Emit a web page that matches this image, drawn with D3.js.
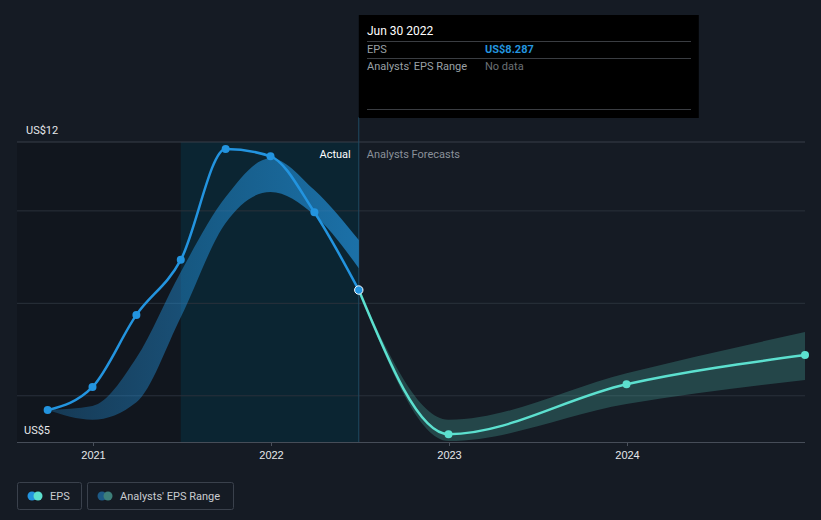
<!DOCTYPE html>
<html><head><meta charset="utf-8">
<script src="https://cdn.jsdelivr.net/npm/d3@7"></script>
<style>
html,body{margin:0;padding:0;background:#151b24;}
svg{display:block;font-family:Roboto,"Open Sans",sans-serif;}
</style></head>
<body><svg id="c" width="821" height="520"></svg>
<script>
// ---- data ----
const epsDates = ["2020-09-30","2020-12-31","2021-03-31","2021-06-30","2021-09-30","2021-12-31","2022-03-31","2022-06-30"];
const epsValues = [5.69, 6.19, 7.75, 8.94, 11.34, 11.18, 9.97, 8.287];
const pastRangeHigh = [5.69, 5.78, 6.82, 8.68, 10.30, 11.14, 10.45, 9.37];
const pastRangeLow  = [5.69, 5.48, 5.86, 7.70, 9.74, 10.41, 9.91, 8.76];
const fcDates = ["2022-06-30","2022-12-31","2023-12-31","2024-12-31"];
const fcValues = [8.287, 5.17, 6.25, 6.88];
const fcHigh = [8.287, 5.48, 6.49, 7.38];
const fcLow  = [8.287, 5.02, 5.82, 6.34];
const yearTicks = ["2021-01-01","2022-01-01","2023-01-01","2024-01-01"];
const yearLabels = ["2021","2022","2023","2024"];
const gridValues = [6, 8, 10];
const yMin = 5, yMax = 11.49;
const yLabels = ["US$12","US$5"];

const parse = d3.timeParse("%Y-%m-%d");
const svg = d3.select("#c");
const x = d3.scaleTime().domain([parse("2021-01-01"), parse("2024-01-01")]).range([93, 627]);
const y = d3.scaleLinear().domain([yMin, yMax]).range([442, 142]);
const left = 17, right = 805;
const xToday = x(parse("2022-06-30"));
const xHL = x(parse("2021-06-30"));

const defs = svg.append("defs");
const grad = defs.append("linearGradient").attr("id", "pastGrad").attr("gradientUnits", "userSpaceOnUse")
  .attr("x1", x(parse(epsDates[0]))).attr("x2", xToday).attr("y1", 0).attr("y2", 0);
grad.append("stop").attr("offset", 0).attr("stop-color", "#2394df").attr("stop-opacity", 0.28);
grad.append("stop").attr("offset", 1).attr("stop-color", "#2394df").attr("stop-opacity", 0.68);

// regions
svg.append("rect").attr("x", left).attr("y", y(yMax)).attr("width", xHL-left).attr("height", y(yMin)-y(yMax)).attr("fill", "#11161e");
svg.append("rect").attr("x", xHL).attr("y", y(yMax)).attr("width", xToday-xHL).attr("height", y(yMin)-y(yMax)).attr("fill", "#0b2532");

// grid
svg.selectAll(".g").data(gridValues).enter().append("line")
  .attr("x1", left).attr("x2", right).attr("y1", d=>y(d)).attr("y2", d=>y(d))
  .attr("stroke", "#2a313b").attr("stroke-width", 1);
svg.append("line").attr("x1", left).attr("x2", right).attr("y1", y(yMax)).attr("y2", y(yMax)).attr("stroke", "#383f49");

// axis
const xAxis = d3.axisBottom(x).tickValues(yearTicks.map(parse)).tickFormat((d,i)=>yearLabels[i]).tickSize(4).tickPadding(5);
const ax = svg.append("g").attr("transform", `translate(0,${y(yMin)})`).call(xAxis);
ax.select(".domain").remove();
ax.selectAll(".tick line").attr("stroke", "#4a515c");
ax.selectAll(".tick text").attr("fill", "#e6e8eb").attr("font-size", 11);
svg.append("line").attr("x1", left).attr("x2", right).attr("y1", y(yMin)+0.5).attr("y2", y(yMin)+0.5).attr("stroke", "#464d58");

// y labels
svg.append("text").attr("x", 26).attr("y", y(yMax)-8).attr("fill", "#e6e8eb").attr("font-size", 11).text(yLabels[0]);
svg.append("text").attr("x", 24).attr("y", y(yMin)-8).attr("fill", "#e6e8eb").attr("font-size", 11).text(yLabels[1]);

// today line
svg.append("line").attr("x1", xToday).attr("x2", xToday).attr("y1", 117).attr("y2", y(yMin)).attr("stroke", "#1f4a63").attr("stroke-width", 1);

// past band
const pastBand = epsDates.map((d,i)=>({d:parse(d), h:pastRangeHigh[i], l:pastRangeLow[i]}));
const area = d3.area().curve(d3.curveMonotoneX).x(d=>x(d.d)).y0(d=>y(d.l)).y1(d=>y(d.h));
svg.append("path").datum(pastBand).attr("d", area).attr("fill", "url(#pastGrad)");

// forecast band
const fcBand = fcDates.map((d,i)=>({d:parse(d), h:fcHigh[i], l:fcLow[i]}));
svg.append("path").datum(fcBand).attr("d", area).attr("fill", "#5ce0cf").attr("opacity", 0.22);

// labels
svg.append("text").attr("x", xToday-8).attr("y", 158).attr("text-anchor", "end").attr("fill", "#ffffff").attr("font-size", 11).text("Actual");
svg.append("text").attr("x", xToday+8).attr("y", 158).attr("fill", "#8a9099").attr("font-size", 11).text("Analysts Forecasts");

// lines
const line = d3.line().curve(d3.curveMonotoneX).x(d=>x(d.d)).y(d=>y(d.v));
const fcPts = fcDates.map((d,i)=>({d:parse(d), v:fcValues[i]}));
svg.append("path").datum(fcPts).attr("d", line).attr("fill", "none").attr("stroke", "#5ce0cf").attr("stroke-width", 2.5);
const epsPts = epsDates.map((d,i)=>({d:parse(d), v:epsValues[i]}));
svg.append("path").datum(epsPts).attr("d", line).attr("fill", "none").attr("stroke", "#2394df").attr("stroke-width", 2.5);

svg.selectAll(".fp").data(fcPts.slice(1)).enter().append("circle")
  .attr("cx", d=>x(d.d)).attr("cy", d=>y(d.v)).attr("r", 4).attr("fill", "#5ce0cf");
svg.selectAll(".ep").data(epsPts.slice(0, -1)).enter().append("circle")
  .attr("cx", d=>x(d.d)).attr("cy", d=>y(d.v)).attr("r", 4).attr("fill", "#2394df");
const last = epsPts[epsPts.length-1];
svg.append("circle").attr("cx", x(last.d)).attr("cy", y(last.v)).attr("r", 4.2).attr("fill", "#2394df").attr("stroke", "#ffffff").attr("stroke-width", 1);

// tooltip
const tt = svg.append("g");
tt.append("rect").attr("x", xToday).attr("y", 15).attr("width", 340).attr("height", 103).attr("fill", "#000000");
tt.append("text").attr("x", 367).attr("y", 35).attr("fill", "#ffffff").attr("font-size", 12).text("Jun 30 2022");
[41, 58, 109].forEach(yy=>tt.append("line").attr("x1", 367).attr("x2", 691).attr("y1", yy+0.5).attr("y2", yy+0.5).attr("stroke", "#3a3d42"));
tt.append("text").attr("x", 367).attr("y", 53).attr("fill", "#9aa0a6").attr("font-size", 11).text("EPS");
tt.append("text").attr("x", 485).attr("y", 53).attr("fill", "#2394df").attr("font-size", 11).attr("font-weight", "bold").text("US$" + epsValues[epsValues.length-1].toFixed(3));
tt.append("text").attr("x", 367).attr("y", 70).attr("fill", "#9aa0a6").attr("font-size", 11).text("Analysts' EPS Range");
tt.append("text").attr("x", 485).attr("y", 70).attr("fill", "#6b7075").attr("font-size", 11).text("No data");

// legend
const lg = svg.append("g");
lg.append("rect").attr("x", 17.5).attr("y", 482.5).attr("width", 64).attr("height", 27).attr("rx", 2).attr("fill", "none").attr("stroke", "#3a414c");
lg.append("circle").attr("cx", 32).attr("cy", 496).attr("r", 4.5).attr("fill", "#2394df");
lg.append("circle").attr("cx", 38).attr("cy", 496).attr("r", 4.5).attr("fill", "#5ce0cf");
lg.append("text").attr("x", 50).attr("y", 500).attr("fill", "#c9ccd0").attr("font-size", 11).text("EPS");
lg.append("rect").attr("x", 87.5).attr("y", 482.5).attr("width", 146).attr("height", 27).attr("rx", 2).attr("fill", "none").attr("stroke", "#3a414c");
lg.append("circle").attr("cx", 102).attr("cy", 496).attr("r", 4.5).attr("fill", "#1d5a86");
lg.append("circle").attr("cx", 108).attr("cy", 496).attr("r", 4.5).attr("fill", "#3d7f7a");
lg.append("text").attr("x", 120).attr("y", 500).attr("fill", "#c9ccd0").attr("font-size", 11).text("Analysts' EPS Range");
</script></body></html>
